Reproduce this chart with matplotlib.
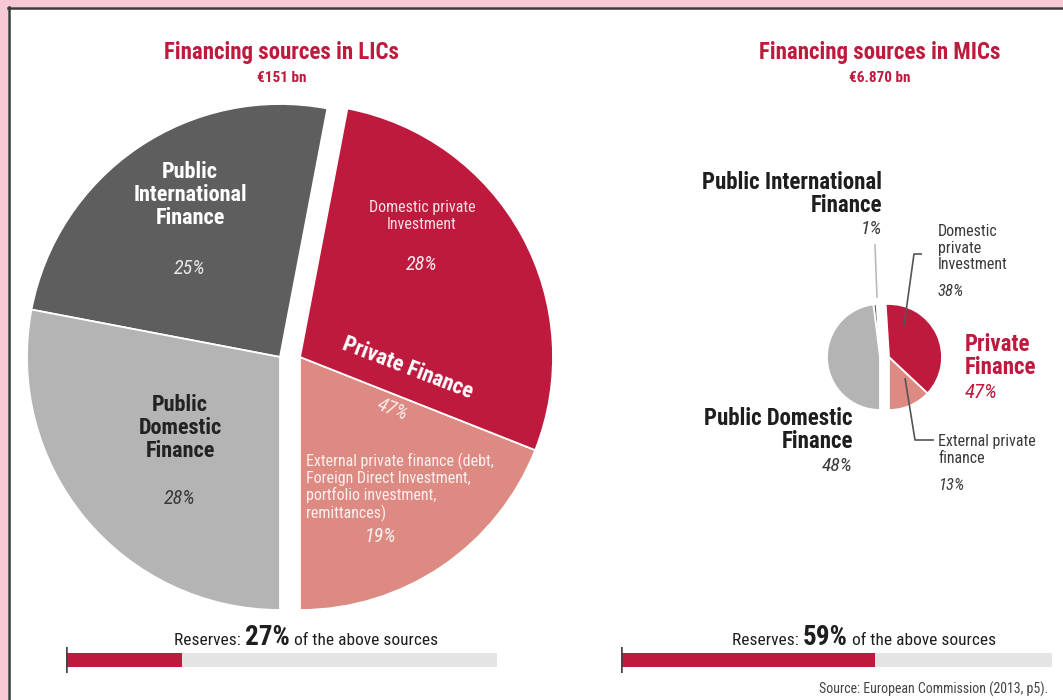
import matplotlib.pyplot as plt
from matplotlib.patches import Rectangle
from matplotlib.lines import Line2D

plt.rcParams['font.family'] = ['Roboto Condensed', 'DejaVu Sans']

# shares, counter-clockwise from 6 o'clock
lic_labels = ['External private finance', 'Domestic private investment',
              'Public International Finance', 'Public Domestic Finance']
lic_values = [19, 28, 25, 28]
mic_values = [13, 38, 1, 48]
is_private = [True, True, False, False]
reserves = [27, 59]

RED = '#be1a3e'
SALMON = '#dc8a82'
DARK = '#5e5e5e'
LIGHT = '#b4b4b4'
colors = [SALMON, RED, DARK, LIGHT]

W, H = 1063, 700
fig = plt.figure(figsize=(W / 100, H / 100), dpi=100, facecolor='#f7c9d6')

# white panel with dark left/top edge
fig.patches.append(Rectangle((8 / W, 0), 1, 1 - 7 / H, transform=fig.transFigure,
                             facecolor='white', edgecolor='none', zorder=-2))
fig.lines.append(Line2D([8.5 / W, 8.5 / W], [0, 1 - 7 / H], transform=fig.transFigure,
                        color='#3a3a3a', lw=1.8, zorder=-1))
fig.lines.append(Line2D([8 / W, 1], [1 - 7.5 / H, 1 - 7.5 / H], transform=fig.transFigure,
                        color='#3a3a3a', lw=1.8, zorder=-1))

ax = fig.add_axes([0, 0, 1, 1])
ax.patch.set_alpha(0)


def Y(y):
    return H - y


def split_pie(values, cx, cy, r, gap):
    # private half pushed right, public half pushed left
    for private, dx in ((True, gap), (False, -gap)):
        wedges, _ = ax.pie(values, colors=colors, startangle=-90, radius=r,
                           center=(cx + dx, cy), frame=True,
                           wedgeprops=dict(edgecolor='white', linewidth=1.3))
        for w, p in zip(wedges, is_private):
            if p != private:
                w.set_visible(False)


split_pie(lic_values, 290, Y(357), 253, 10)
split_pie(mic_values, 884.5, Y(357), 53, 4.5)

ax.set_xlim(0, W)
ax.set_ylim(0, H)
ax.set_aspect('equal')
ax.axis('off')

# titles
for x, t, s in ((282, 'Financing sources in LICs', '€151 bn'),
                (880, 'Financing sources in MICs', '€6.870 bn')):
    ax.text(x, Y(53), t, color=RED, fontsize=16.5, fontweight='bold', ha='center', va='center')
    ax.text(x, Y(78), s, color=RED, fontsize=11, fontweight='bold', ha='center', va='center')

# LIC labels
ax.text(190, Y(195), 'Public\nInternational\nFinance', color='white', fontsize=16,
        fontweight='bold', ha='center', va='center', linespacing=1.05)
ax.text(190, Y(268), '25%', color='#e6e6e6', fontsize=14.5, style='italic', ha='center', va='center')
ax.text(180, Y(428), 'Public\nDomestic\nFinance', color='#222222', fontsize=16,
        fontweight='bold', ha='center', va='center', linespacing=1.05)
ax.text(180, Y(498), '28%', color='#3a3a3a', fontsize=14.5, style='italic', ha='center', va='center')
ax.text(422, Y(216), 'Domestic private\nInvestment', color='#f6dde2', fontsize=11.5,
        ha='center', va='center', linespacing=1.1)
ax.text(422, Y(264), '28%', color='#f6e6ea', fontsize=14.5, style='italic', ha='center', va='center')
ax.text(408, Y(368), 'Private Finance', color='white', fontsize=16, fontweight='bold',
        ha='center', va='center', rotation=-21, rotation_mode='anchor')
ax.text(393, Y(410), '47%', color='#fbe9e8', fontsize=14.5, style='italic',
        ha='center', va='center', rotation=-21, rotation_mode='anchor')
ax.text(306, Y(487), 'External private finance (debt,\nForeign Direct Investment,\n'
        'portfolio investment,\nremittances)', color='#fdf0ef', fontsize=11.5,
        ha='left', va='center', linespacing=1.1)
ax.text(380, Y(536), '19%', color='#fdf0ef', fontsize=14.5, style='italic', ha='center', va='center')

# MIC labels and leader lines
ax.text(882, Y(194), 'Public International\nFinance', color='#1e1e1e', fontsize=16.5,
        fontweight='bold', ha='right', va='center', linespacing=1.0)
ax.text(882, Y(229), '1%', color='#3a3a3a', fontsize=14, style='italic', ha='right', va='center')
ax.text(853, Y(430), 'Public Domestic\nFinance', color='#1e1e1e', fontsize=16.5,
        fontweight='bold', ha='right', va='center', linespacing=1.0)
ax.text(853, Y(466), '48%', color='#3a3a3a', fontsize=14, style='italic', ha='right', va='center')
ax.text(938, Y(248), 'Domestic\nprivate\nInvestment', color='#3a3a3a', fontsize=11.5,
        ha='left', va='center', linespacing=1.15)
ax.text(938, Y(292), '38%', color='#3a3a3a', fontsize=12, style='italic', ha='left', va='center')
ax.text(965, Y(356), 'Private\nFinance', color=RED, fontsize=16.5, fontweight='bold',
        ha='left', va='center', linespacing=1.0)
ax.text(965, Y(393), '47%', color=RED, fontsize=15, style='italic', ha='left', va='center')
ax.text(938, Y(450), 'External private\nfinance', color='#3a3a3a', fontsize=11.5,
        ha='left', va='center', linespacing=1.15)
ax.text(938, Y(485), '13%', color='#3a3a3a', fontsize=12, style='italic', ha='left', va='center')

lead = dict(color='#555555', lw=1.2, solid_capstyle='butt')
ax.plot([875, 877], [Y(245), Y(297)], color='#bbbbbb', lw=1.2)
ax.plot([904, 914, 922], [Y(326), Y(254), Y(254)], **lead)
ax.plot([905, 915, 934], [Y(378), Y(440), Y(440)], **lead)

# reserves captions, mixed sizes on one baseline
fig.canvas.draw()
rend = fig.canvas.get_renderer()
for cx, val in ((306, reserves[0]), (864, reserves[1])):
    parts = [('Reserves: ', 12.5, 'normal'), (f'{val}%', 19.5, 'bold'),
             (' of the above sources', 12.5, 'normal')]
    texts = [ax.text(0, Y(645), s, fontsize=fs, fontweight=fw, color='#1e1e1e',
                     ha='left', va='baseline') for s, fs, fw in parts]
    widths = [t.get_window_extent(rend).width for t in texts]
    x = cx - sum(widths) / 2
    for t, w in zip(texts, widths):
        t.set_x(x)
        x += w

# reserve bars
for left, val in ((66, reserves[0]), (621, reserves[1])):
    bx = fig.add_axes([left / W, 27 / H, 431 / W, 26 / H])
    bx.barh(0, 100, height=0.56, color='#e4e4e4')
    bx.barh(0, val, height=0.56, color=RED)
    bx.axvline(0, color='#444444', lw=1.8)
    bx.set_xlim(0, 100)
    bx.set_ylim(-0.5, 0.5)
    bx.axis('off')

ax.text(1048, Y(689), 'Source: European Commission (2013, p5).', fontsize=10,
        color='#444444', ha='right', va='center')

fig.savefig('out.png', dpi=100, facecolor=fig.get_facecolor())
